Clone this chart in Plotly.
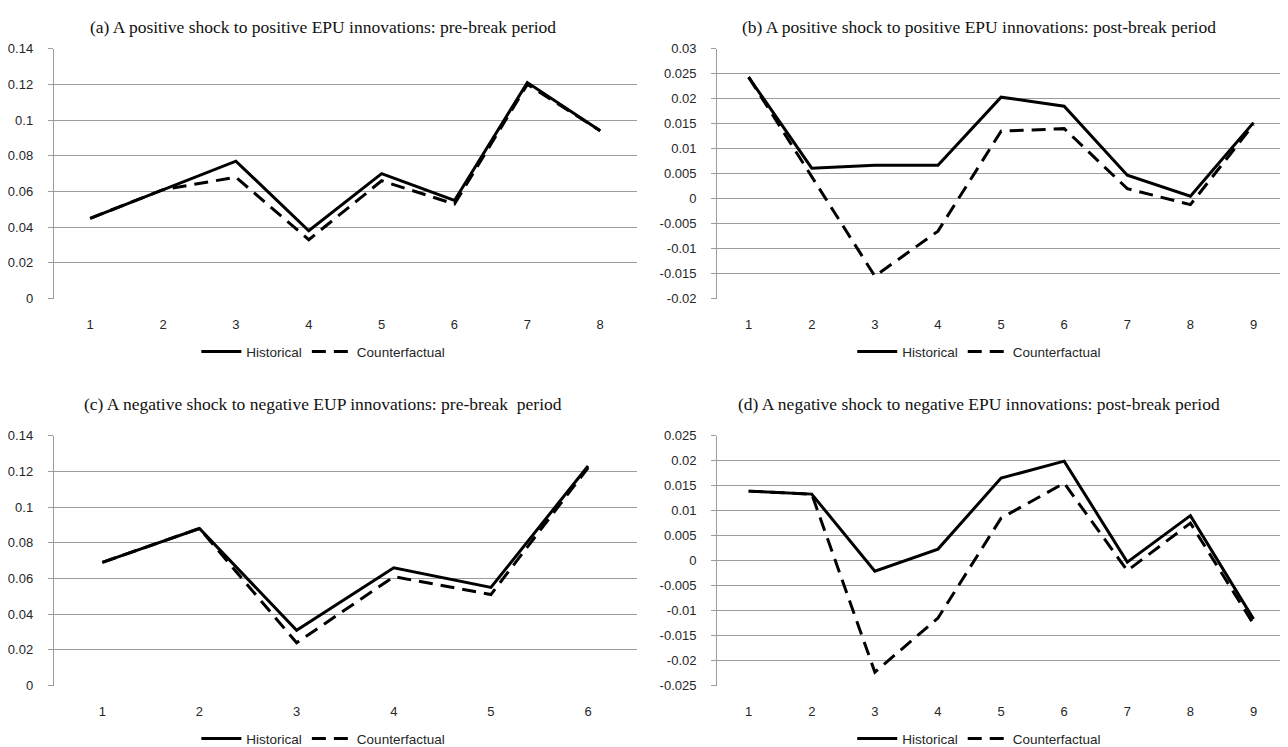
import plotly.graph_objects as go

# ---------------- data ----------------
periods_a = [1, 2, 3, 4, 5, 6, 7, 8]
hist_a = [0.045, 0.061, 0.077, 0.038, 0.070, 0.055, 0.121, 0.094]
cf_a = [0.045, 0.061, 0.068, 0.033, 0.066, 0.053, 0.120, 0.094]

periods_b = [1, 2, 3, 4, 5, 6, 7, 8, 9]
hist_b = [0.0243, 0.0061, 0.0067, 0.0067, 0.0203, 0.0185, 0.0047, 0.0005, 0.0152]
cf_b = [0.0243, 0.0045, -0.0155, -0.0065, 0.0135, 0.0140, 0.0020, -0.0012, 0.0148]

periods_c = [1, 2, 3, 4, 5, 6]
hist_c = [0.069, 0.088, 0.031, 0.066, 0.055, 0.123]
cf_c = [0.069, 0.088, 0.024, 0.061, 0.051, 0.122]

periods_d = [1, 2, 3, 4, 5, 6, 7, 8, 9]
hist_d = [0.0139, 0.0133, -0.0021, 0.0023, 0.0165, 0.0199, -0.0003, 0.0090, -0.0117]
cf_d = [0.0139, 0.0133, -0.0223, -0.0115, 0.0085, 0.0155, -0.0020, 0.0075, -0.0127]

titles = [
    "(a) A positive shock to positive EPU innovations: pre-break period",
    "(b) A positive shock to positive EPU innovations: post-break period",
    "(c) A negative shock to negative EUP innovations: pre-break  period",
    "(d) A negative shock to negative EPU innovations: post-break period",
]
series_names = ["Historical", "Counterfactual"]

yticks_a = [0, 0.02, 0.04, 0.06, 0.08, 0.1, 0.12, 0.14]
yticks_b = [-0.02, -0.015, -0.01, -0.005, 0, 0.005, 0.01, 0.015, 0.02, 0.025, 0.03]
yticks_c = [0, 0.02, 0.04, 0.06, 0.08, 0.1, 0.12, 0.14]
yticks_d = [-0.025, -0.02, -0.015, -0.01, -0.005, 0, 0.005, 0.01, 0.015, 0.02, 0.025]

# ---------------- layout geometry ----------------
W, H = 1288, 747
OFF = 8  # page body margin compensation
px_dom = {
    "a": ((45, 632), (49, 299)),
    "b": ((713, 1285), (49, 299)),
    "c": ((45, 632), (436, 686)),
    "d": ((713, 1285), (436, 686)),
}

panels = [
    ("a", periods_a, hist_a, cf_a, yticks_a),
    ("b", periods_b, hist_b, cf_b, yticks_b),
    ("c", periods_c, hist_c, cf_c, yticks_c),
    ("d", periods_d, hist_d, cf_d, yticks_d),
]

tick_font = dict(family="Liberation Sans, Arial, sans-serif", size=13, color="#262626")
grid_col = "#9c9c9c"

fig = go.Figure()
layout = dict(
    width=W, height=H, margin=dict(l=0, r=0, t=0, b=0),
    paper_bgcolor="white", plot_bgcolor="white",
    showlegend=True, annotations=[],
)


def fmt(v):
    if v == 0:
        return "0"
    return ("%.3f" % v).rstrip("0").rstrip(".")


def fx(p):
    return (p - OFF) / W


def fy(p):
    q = (p - 7.5) / 0.98
    return 1 - (q - OFF) / H


for i, (key, xs, hist, cf, yt) in enumerate(panels):
    n = i + 1
    sfx = "" if n == 1 else str(n)
    (x0, x1), (y0, y1) = px_dom[key]
    dom_x = [fx(x0), fx(x1)]
    dom_y = [fy(y1), fy(y0)]
    yr = [min(yt), max(yt)]
    xr = [min(xs) - 0.5, max(xs) + 0.5]
    leg = "legend" if n == 1 else "legend%d" % n

    fig.add_trace(go.Scatter(
        x=xs, y=hist, mode="lines", name=series_names[0],
        line=dict(color="black", width=3),
        xaxis="x" + sfx, yaxis="y" + sfx, legend=leg,
    ))
    fig.add_trace(go.Scatter(
        x=xs, y=cf, mode="lines", name=series_names[1],
        line=dict(color="black", width=3, dash="14px,8px"),
        xaxis="x" + sfx, yaxis="y" + sfx, legend=leg,
    ))

    # main x axis (labels at the bottom)
    layout["xaxis" + sfx] = dict(
        domain=dom_x, anchor="y" + sfx, range=xr,
        tickmode="array", tickvals=xs, ticktext=[str(v) for v in xs],
        showgrid=False, zeroline=False, showline=False, ticks="",
        tickfont=tick_font, ticklabelstandoff=16, fixedrange=True,
    )
    layout["yaxis" + sfx] = dict(
        domain=dom_y, anchor="x" + sfx, range=yr,
        tickmode="array", tickvals=yt, ticktext=[fmt(v) for v in yt],
        showgrid=True, gridcolor=grid_col, gridwidth=1,
        zeroline=False, showline=True, linecolor=grid_col, linewidth=1,
        ticks="outside", ticklen=5, tickcolor=grid_col,
        tickfont=tick_font, ticklabelstandoff=12, fixedrange=True,
    )

    # category-boundary tick axis on the y=0 line
    zero_pos = dom_y[0] + (0 - yr[0]) / (yr[1] - yr[0]) * (dom_y[1] - dom_y[0])
    tn = 4 + n
    bounds = [v - 0.5 for v in xs] + [max(xs) + 0.5]
    layout["xaxis%d" % tn] = dict(
        domain=dom_x, overlaying="x" + sfx, anchor="free", position=zero_pos,
        range=xr, tickmode="array", tickvals=bounds,
        showticklabels=False, ticks="outside", ticklen=5, tickcolor=grid_col,
        showline=True, linecolor=grid_col, linewidth=1,
        showgrid=False, zeroline=False, fixedrange=True,
    )

    # legend under each panel
    layout[leg] = dict(
        orientation="h", x=fx((x0 + x1) / 2 - 22), xanchor="center",
        y=fy(y1 + 53), yanchor="middle",
        bgcolor="rgba(0,0,0,0)",
        font=dict(family="Liberation Sans, Arial, sans-serif", size=13.5, color="#262626"),
        itemwidth=40, tracegroupgap=0,
    )

    # panel title (kept fully inside the figure)
    if n <= 2:
        ty, tanchor = 1.0, "top"
    else:
        ty, tanchor = fy(y0 - 32), "middle"
    layout["annotations"].append(dict(
        text=titles[i], xref="paper", yref="paper",
        x=fx((x0 + x1) / 2 - 22), y=ty,
        xanchor="center", yanchor=tanchor, showarrow=False,
        font=dict(family="Liberation Serif, Times New Roman, serif", size=17.5, color="#111"),
    ))

fig.update_layout(**layout)
fig.write_html("out.html")
